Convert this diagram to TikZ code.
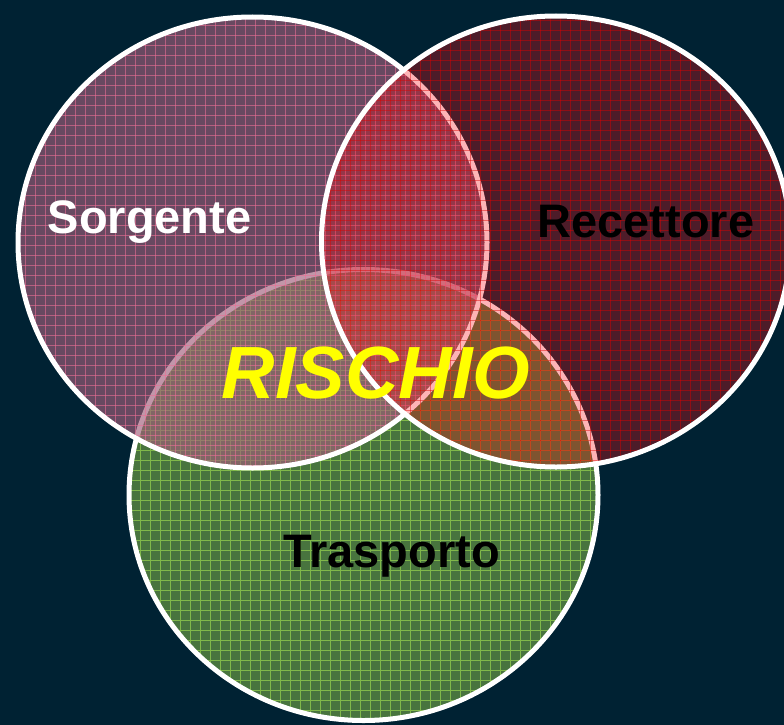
\documentclass[tikz,border=0pt]{standalone}
\usepackage{fontspec}
\setmainfont{Liberation Sans}
\definecolor{bg}{RGB}{0,34,51}
\definecolor{tgreen}{RGB}{72,116,62}
\definecolor{tgridc}{RGB}{128,184,74}
\definecolor{sfill}{RGB}{160,95,123}
\definecolor{sgridc}{RGB}{235,110,150}
\definecolor{rfill}{RGB}{250,15,20}
\definecolor{rgridc}{RGB}{225,0,0}
\definecolor{rischio}{RGB}{255,255,0}
\begin{document}
\begin{tikzpicture}[x=1pt,y=-1pt]
\tikzset{
  oval/.style={x radius=234.5pt, y radius=225.5pt},
  rim/.style={draw=white, line width=5pt},
  tgridline/.style={draw=tgridc, line width=0.6pt},
  sgridline/.style={draw=sgridc, line width=0.6pt, draw opacity=0.6},
  rgridline/.style={draw=rgridc, line width=0.6pt, draw opacity=0.45},
  lbl/.style={font=\bfseries\fontsize{47}{52}\selectfont, anchor=base, inner sep=0pt},
}
\useasboundingbox (0,0) rectangle (784,725);
\fill[bg] (0,0) rectangle (784,725);
\coordinate (cT) at (363.5,495);
\coordinate (cS) at (252.5,242.5);
\coordinate (cR) at (556,241.5);
% Trasporto (green)
\fill[tgreen] (cT) ellipse[oval];
\begin{scope}
  \clip (cT) ellipse[oval];
  \foreach \i in {0,...,78}{
    \draw[tgridline] (\i*10+0.5,0) -- (\i*10+0.5,725);
  }
  \foreach \i in {0,...,72}{
    \draw[tgridline] (0,\i*10+0.5) -- (784,\i*10+0.5);
  }
\end{scope}
\draw[rim] (cT) ellipse[oval];
% Sorgente (mauve, translucent)
\fill[sfill, fill opacity=0.65] (cS) ellipse[oval];
\begin{scope}
  \clip (cS) ellipse[oval];
  \foreach \i in {0,...,78}{
    \draw[sgridline] (\i*10+5.5,0) -- (\i*10+5.5,725);
  }
  \foreach \i in {0,...,72}{
    \draw[sgridline] (0,\i*10+5.5) -- (784,\i*10+5.5);
  }
\end{scope}
\draw[rim] (cS) ellipse[oval];
% Recettore (red, translucent)
\fill[rfill, fill opacity=0.31] (cR) ellipse[oval];
\begin{scope}
  \clip (cR) ellipse[oval];
  \foreach \i in {0,...,78}{
    \draw[rgridline] (\i*10+0.5,0) -- (\i*10+0.5,725);
  }
  \foreach \i in {0,...,72}{
    \draw[rgridline] (0,\i*10+0.5) -- (784,\i*10+0.5);
  }
\end{scope}
\draw[rim] (cR) ellipse[oval];
% Labels
\node[lbl, text=white] (sorg) at (149.5,233) {Sorgente};
\node[lbl, text=black] (rec) at (646,237) {Recettore};
\node[lbl, text=black] (tra) at (391.5,567) {Trasporto};
\node[font=\bfseries\itshape\fontsize{74}{80}\selectfont, text=rischio, anchor=base, inner sep=0pt] (ris) at (376,398) {RISCHIO};
\end{tikzpicture}
\end{document}
